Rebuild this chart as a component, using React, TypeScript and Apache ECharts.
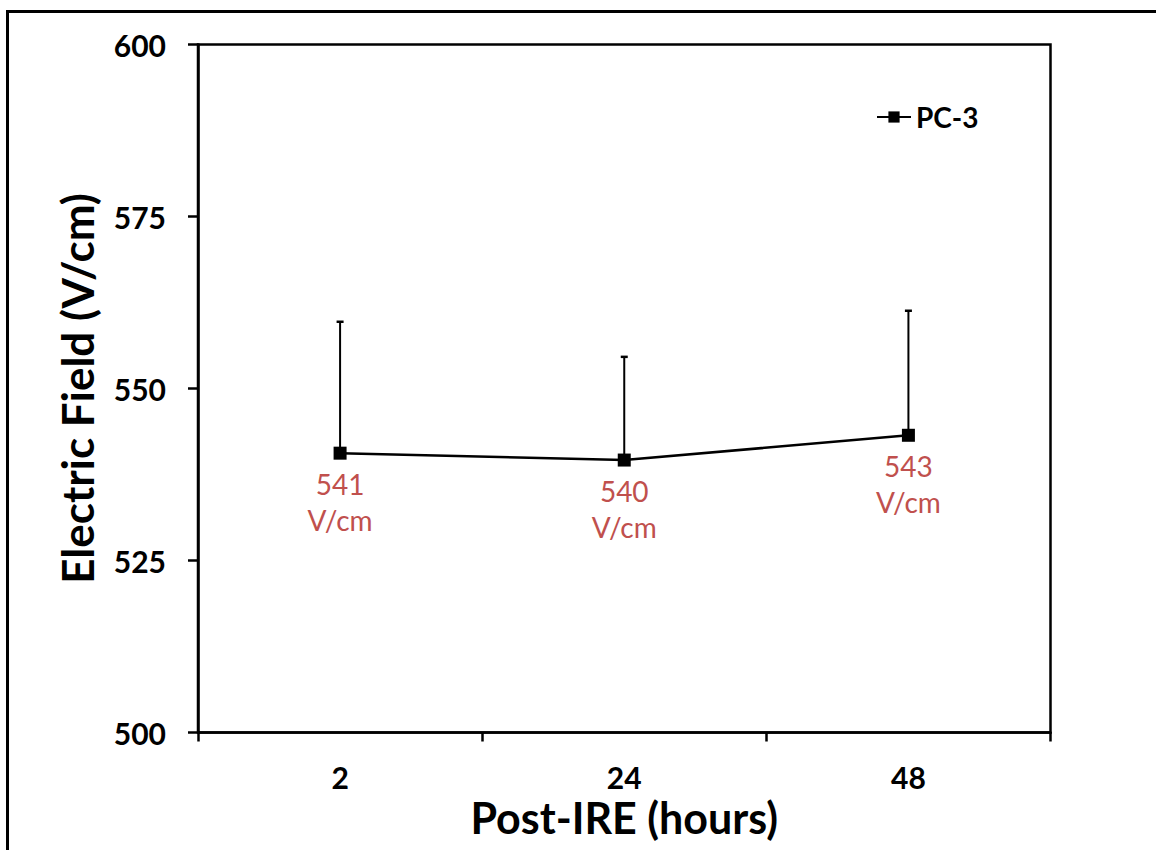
import React, { useEffect, useRef } from "react";
import * as echarts from "echarts";

const categories = ["2", "24", "48"];
const meanValues = [540.6, 539.6, 543.2];
const upperValues = [559.7, 554.6, 561.3];
const pointLabels = ["541\nV/cm", "540\nV/cm", "543\nV/cm"];
const seriesName = "PC-3";
const yTicks = { min: 500, max: 600, interval: 25 };

const FONT = "Lato, 'Open Sans', sans-serif";

export default function App() {
  const ref = useRef<HTMLDivElement>(null);
  useEffect(() => {
    if (!ref.current) return;
    const chart = echarts.init(ref.current, null, { renderer: "svg" });
    const errData = categories.map((c, i) => [i, meanValues[i], upperValues[i]]);
    chart.setOption({
      animation: false,
      backgroundColor: "#ffffff",
      textStyle: { fontFamily: FONT },
      grid: {
        left: 198,
        right: 105.5,
        top: 44.5,
        bottom: 117.5,
        show: true,
        borderColor: "#000",
        borderWidth: 2.5,
        backgroundColor: "transparent",
      },
      legend: {
        left: 876,
        top: 103,
        padding: 0,
        itemWidth: 34,
        itemHeight: 14,
        data: [seriesName],
        textStyle: { fontFamily: FONT, fontWeight: "bold", fontSize: 28, color: "#000" },
      },
      xAxis: {
        type: "category",
        data: categories,
        boundaryGap: true,
        name: "Post-IRE (hours)",
        nameLocation: "middle",
        nameGap: 62,
        nameTextStyle: { fontFamily: FONT, fontWeight: "bold", fontSize: 43, color: "#000" },
        axisLine: { lineStyle: { color: "#000", width: 2.5 } },
        axisTick: { show: true, length: 9, lineStyle: { color: "#000", width: 2.5 } },
        axisLabel: { margin: 29, fontFamily: FONT, fontWeight: "bold", fontSize: 30, color: "#000" },
        splitLine: { show: false },
      },
      yAxis: {
        type: "value",
        min: yTicks.min,
        max: yTicks.max,
        interval: yTicks.interval,
        name: "Electric Field (V/cm)",
        nameLocation: "middle",
        nameRotate: 90,
        nameGap: 99,
        nameTextStyle: { fontFamily: FONT, fontWeight: "bold", fontSize: 44, color: "#000" },
        axisLine: { show: true, lineStyle: { color: "#000", width: 2.5 } },
        axisTick: { show: true, length: 10, lineStyle: { color: "#000", width: 2.5 } },
        axisLabel: { margin: 32, fontFamily: FONT, fontWeight: "bold", fontSize: 30, color: "#000" },
        splitLine: { show: false },
      },
      series: [
        {
          type: "custom",
          name: "err",
          z: 1,
          silent: true,
          data: errData,
          encode: { x: 0, y: [1, 2] },
          renderItem: (params: any, api: any) => {
            const base = api.coord([api.value(0), api.value(1)]);
            const top = api.coord([api.value(0), api.value(2)]);
            return {
              type: "group",
              children: [
                {
                  type: "line",
                  shape: { x1: base[0], y1: base[1], x2: top[0], y2: top[1] },
                  style: { stroke: "#000", lineWidth: 2 },
                },
                {
                  type: "line",
                  shape: { x1: top[0] - 3.5, y1: top[1], x2: top[0] + 3.5, y2: top[1] },
                  style: { stroke: "#000", lineWidth: 2.5 },
                },
              ],
            };
          },
        },
        {
          type: "line",
          name: seriesName,
          z: 3,
          data: meanValues,
          symbol: "rect",
          symbolSize: 13,
          lineStyle: { color: "#000", width: 2.5 },
          itemStyle: { color: "#000" },
          label: {
            show: true,
            position: "bottom",
            distance: 6,
            formatter: (p: any) => pointLabels[p.dataIndex],
            fontFamily: FONT,
            fontSize: 28,
            lineHeight: 36,
            color: "#C0504D",
          },
        },
      ],
      graphic: [
        {
          type: "line",
          shape: { x1: 6, y1: 11.5, x2: 1156, y2: 11.5 },
          style: { stroke: "#000", lineWidth: 3 },
        },
        {
          type: "line",
          shape: { x1: 7.5, y1: 10, x2: 7.5, y2: 850 },
          style: { stroke: "#000", lineWidth: 3 },
        },
      ],
    });
    return () => chart.dispose();
  }, []);
  return (
    <div
      ref={ref}
      style={{ position: "fixed", left: 0, top: 0, width: 1156, height: 850 }}
    />
  );
}
